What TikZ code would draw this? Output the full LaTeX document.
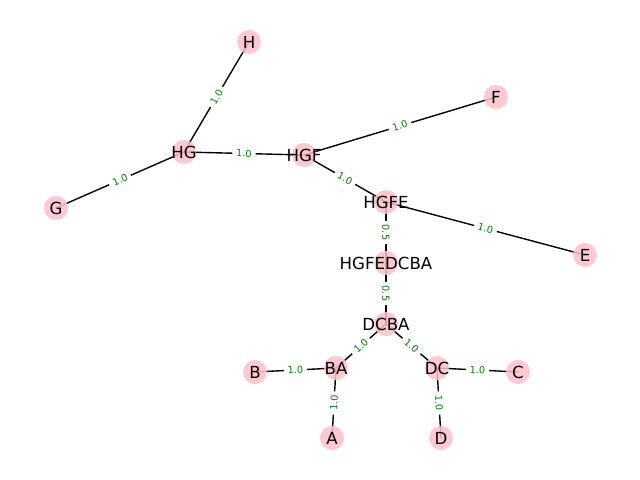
\documentclass[tikz,border=0pt]{standalone}
\usepackage{fontspec}
\setmainfont{DejaVu Sans}
\usetikzlibrary{backgrounds}
\definecolor{nodepink}{HTML}{FFC0CB}
\definecolor{labgreen}{HTML}{008000}

\begin{document}
\begin{tikzpicture}[x=0.01in, y=-0.01in,
	vertex/.style={circle, fill=nodepink, fill opacity=0.85, minimum size=0.24in, inner sep=0pt},
	tag/.style={font=\fontsize{12}{14}\selectfont, inner sep=0pt},
	weight/.style={midway, sloped, allow upside down, fill=white, rounded corners=2pt, inner sep=2.8pt, text=labgreen, font=\fontsize{7}{8}\selectfont}]
	\useasboundingbox (0,0) rectangle (640,480);
	% arbre: noeuds
	\foreach \n/\x/\y in {H/249/42, F/496/97, HG/184/152, HGF/304/155, G/56/208, HGFE/386/202,
		E/585/255, HGFEDCBA/386/263, DCBA/386/324, B/255/372, BA/336/368, DC/437/368,
		C/518/372, A/332/438, D/441/438} {
		\node[vertex, label={[tag]center:\n}] (\n) at (\x,\y) {};
	}
	% arbre: aretes et poids (de gauche a droite)
	\begin{pgfonlayer}{background}
	\foreach \u/\v/\w in {HG/H/1.0, G/HG/1.0, HG/HGF/1.0, HGF/F/1.0, HGF/HGFE/1.0, HGFE/E/1.0,
		HGFE/HGFEDCBA/0.5, HGFEDCBA/DCBA/0.5, BA/DCBA/1.0, DCBA/DC/1.0, B/BA/1.0, A/BA/1.0,
		DC/C/1.0, DC/D/1.0} {
		\draw[line width=1pt] (\u.center) -- node[weight] {\w} (\v.center);
	}
	\end{pgfonlayer}
\end{tikzpicture}
\end{document}
